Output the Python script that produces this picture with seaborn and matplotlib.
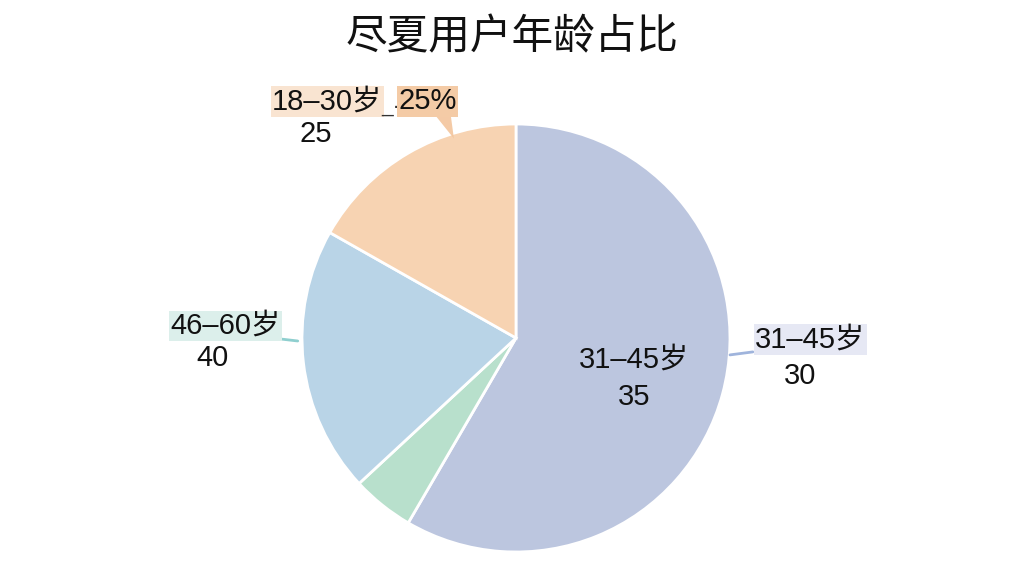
import matplotlib
matplotlib.use("Agg")
import matplotlib.pyplot as plt
import seaborn as sns

# slice shares (clockwise from 12 o'clock)
groups = ["31-45岁", "其他", "46-60岁", "18-30岁"]
shares = [58.4, 4.7, 20.1, 16.8]
colors = ["#bcc6df", "#b8e0cc", "#b9d4e7", "#f7d3b2"]

# label texts as shown on the chart
label_1830 = "18–30岁"
pct_1830 = "25%"
val_1830 = "25"
label_4660 = "46–60岁"
val_4660 = "40"
label_3145 = "31–45岁"
val_3145_in = "35"
val_3145_out = "30"

sns.set_theme(style="white")
plt.rcParams['font.family'] = ['Liberation Sans', 'Noto Sans CJK SC', 'DejaVu Sans']

fig = plt.figure(figsize=(10.24, 5.76), dpi=100)
ax = fig.add_axes([0.2949, 0.0417, 0.418, 0.743])
ax.pie(shares, colors=colors, startangle=90, counterclock=False, radius=1,
       wedgeprops=dict(edgecolor="white", linewidth=2))
ax.set_xlim(-1, 1)
ax.set_ylim(-1, 1)
ax.set_aspect("equal")
ax.axis("off")

fs = 21
# 18-30 label with callout
ax.text(-1.14, 1.107, label_1830, fontsize=fs, ha="left", va="center", color="#111111",
        bbox=dict(boxstyle="square,pad=0.05", fc="#f9e4d1", ec="none"))
ax.text(-0.585, 1.08, "_·", fontsize=15, ha="center", va="center", color="#333333")
ax.annotate("", xy=(-0.285, 0.92), xytext=(-0.345, 1.06),
            arrowprops=dict(arrowstyle="wedge,tail_width=0.9", fc="#f3c59c", ec="none", alpha=0.9))
ax.text(-0.551, 1.107, pct_1830, fontsize=fs, ha="left", va="center", color="#111111",
        bbox=dict(boxstyle="square,pad=0.05", fc="#f4cba6", ec="none"))
ax.text(-0.935, 0.953, val_1830, fontsize=fs, ha="center", va="center", color="#111111")

# 46-60 label
ax.plot([-1.14, -1.02], [0.0, -0.014], color="#8fcfcf", lw=2, clip_on=False)
ax.text(-1.617, 0.056, label_4660, fontsize=fs, ha="left", va="center", color="#111111",
        bbox=dict(boxstyle="square,pad=0.05", fc="#dcefeb", ec="none"))
ax.text(-1.416, -0.093, val_4660, fontsize=fs, ha="center", va="center", color="#111111")

# 31-45 inside
ax.text(0.551, -0.103, label_3145, fontsize=fs, ha="center", va="center", color="#111111")
ax.text(0.551, -0.276, val_3145_in, fontsize=fs, ha="center", va="center", color="#111111")

# 31-45 outside
ax.plot([1.0, 1.107], [-0.079, -0.065], color="#9fb4dc", lw=2, clip_on=False)
ax.text(1.117, -0.009, label_3145, fontsize=fs, ha="left", va="center", color="#111111",
        bbox=dict(boxstyle="square,pad=0.05", fc="#e6e8f4", ec="none"))
ax.text(1.327, -0.178, val_3145_out, fontsize=fs, ha="center", va="center", color="#111111")

fig.text(0.5, 0.934, "尽夏用户年龄占比", fontsize=30, ha="center", va="center", color="#111111",
         family=['Noto Sans CJK SC', 'DejaVu Sans'])

fig.savefig("out.png", dpi=100, facecolor="white")
